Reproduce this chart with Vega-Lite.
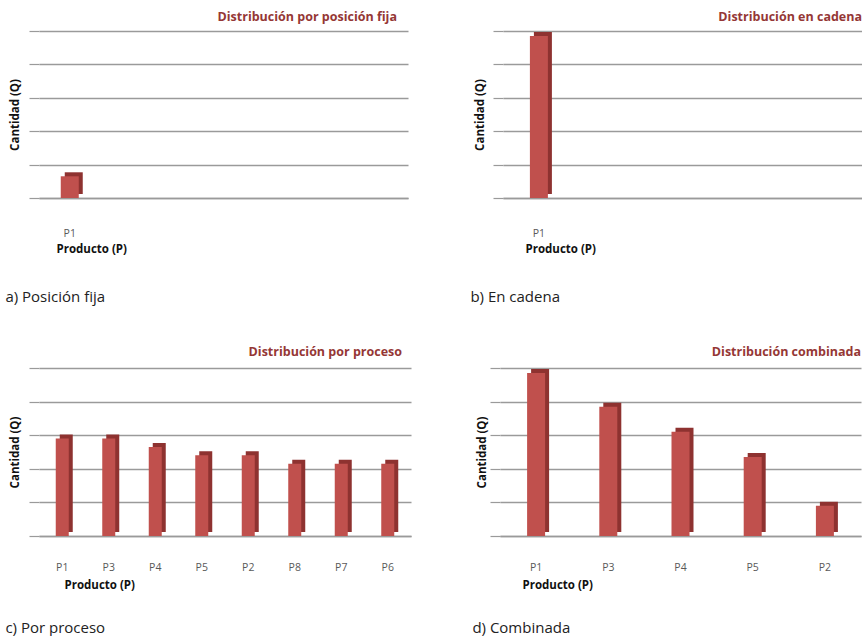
{
  "$schema": "https://vega.github.io/schema/vega-lite/v6.json",
  "background": "white",
  "padding": {"left": 5, "top": 10, "right": 0, "bottom": 0},
  "config": {
    "view": {"stroke": null},
    "font": "Open Sans",
    "axisX": {
      "labelAngle": 0, "labelColor": "#595959", "labelFontSize": 10.5, "labelPadding": 30,
      "ticks": false, "domain": true, "domainColor": "#9a9a9a", "domainWidth": 1.5, "grid": false,
      "titleFontSize": 11.5, "titleFontWeight": "bold", "titleColor": "#111111",
      "titleAnchor": "start", "titleAlign": "left", "titlePadding": 5
    },
    "axisY": {
      "labels": false, "ticks": true, "tickSize": 10, "tickColor": "#9a9a9a", "tickWidth": 1.2,
      "domain": false, "grid": true, "gridColor": "#9a9a9a", "gridWidth": 1.5,
      "titleFontSize": 11.5, "titleFontWeight": "bold", "titleColor": "#111111", "titlePadding": 8
    },
    "title": {"font": "Open Sans"}
  },
  "spacing": 40,
  "vconcat": [
    {
      "spacing": 62,
      "hconcat": [
        {
          "title": {"text": "a) Posición fija", "orient": "bottom", "anchor": "start", "frame": "bounds", "fontSize": 15, "fontWeight": "normal", "color": "#222222", "offset": 35, "dx": -4},
          "vconcat": [
            {
              "width": 369, "height": 167,
              "title": {"text": "Distribución por posición fija", "anchor": "end", "color": "#953735", "fontSize": 12.5, "fontWeight": "bold", "offset": 7, "dx": -11},
              "data": {"values": [{"producto": "P1", "cantidad": 0.65}]},
              "encoding": {
                "x": {"field": "producto", "type": "nominal", "sort": null, "title": "Producto (P)",
                  "scale": {"domain": ["P1", "P3", "P4", "P5", "P2", "P8"], "paddingInner": 0, "paddingOuter": 0},
                  "axis": {"values": ["P1"], "titleX": 17}},
                "y": {"field": "cantidad", "type": "quantitative", "title": "Cantidad (Q)",
                  "scale": {"domain": [0, 5], "nice": false}, "axis": {"values": [0, 1, 2, 3, 4, 5]}}
              },
              "layer": [
                {"mark": {"type": "bar", "color": "#8E3230", "size": 18, "xOffset": 4, "yOffset": -4}},
                {"mark": {"type": "bar", "color": "#C0504D", "size": 18}}
              ]
            }
          ]
        },
        {
          "title": {"text": "b) En cadena", "orient": "bottom", "anchor": "start", "frame": "bounds", "fontSize": 15, "fontWeight": "normal", "color": "#222222", "offset": 35, "dx": -4},
          "vconcat": [
            {
              "width": 359, "height": 167,
              "title": {"text": "Distribución en cadena", "anchor": "end", "color": "#953735", "fontSize": 12.5, "fontWeight": "bold", "offset": 7},
              "data": {"values": [{"producto": "P1", "cantidad": 4.85}]},
              "encoding": {
                "x": {"field": "producto", "type": "nominal", "sort": null, "title": "Producto (P)",
                  "scale": {"domain": ["P1", "P3", "P4", "P5", "P2"], "paddingInner": 0, "paddingOuter": 0},
                  "axis": {"values": ["P1"], "titleX": 22}},
                "y": {"field": "cantidad", "type": "quantitative", "title": "Cantidad (Q)",
                  "scale": {"domain": [0, 5], "nice": false}, "axis": {"values": [0, 1, 2, 3, 4, 5], "titlePadding": 7}}
              },
              "layer": [
                {"mark": {"type": "bar", "color": "#8E3230", "size": 18, "xOffset": 4, "yOffset": -4}},
                {"mark": {"type": "bar", "color": "#C0504D", "size": 18}}
              ]
            }
          ]
        }
      ]
    },
    {
      "spacing": 61,
      "hconcat": [
        {
          "title": {"text": "c) Por proceso", "orient": "bottom", "anchor": "start", "frame": "bounds", "fontSize": 15, "fontWeight": "normal", "color": "#222222", "offset": 30, "dx": -4},
          "vconcat": [
            {
              "width": 372, "height": 168,
              "title": {"text": "Distribución por proceso", "anchor": "end", "color": "#953735", "fontSize": 12.5, "fontWeight": "bold", "offset": 9, "dx": -9},
              "data": {"values": [
                {"producto": "P1", "cantidad": 2.9},
                {"producto": "P3", "cantidad": 2.9},
                {"producto": "P4", "cantidad": 2.65},
                {"producto": "P5", "cantidad": 2.4},
                {"producto": "P2", "cantidad": 2.4},
                {"producto": "P8", "cantidad": 2.15},
                {"producto": "P7", "cantidad": 2.15},
                {"producto": "P6", "cantidad": 2.15}
              ]},
              "encoding": {
                "x": {"field": "producto", "type": "nominal", "sort": null, "title": "Producto (P)",
                  "scale": {"paddingInner": 0, "paddingOuter": 0},
                  "axis": {"labelPadding": 26, "titleX": 25, "titlePadding": 7}},
                "y": {"field": "cantidad", "type": "quantitative", "title": "Cantidad (Q)",
                  "scale": {"domain": [0, 5], "nice": false}, "axis": {"values": [0, 1, 2, 3, 4, 5]}}
              },
              "layer": [
                {"mark": {"type": "bar", "color": "#8E3230", "size": 13, "xOffset": 4, "yOffset": -4}},
                {"mark": {"type": "bar", "color": "#C0504D", "size": 13}}
              ]
            }
          ]
        },
        {
          "title": {"text": "d) Combinada", "orient": "bottom", "anchor": "start", "frame": "bounds", "fontSize": 15, "fontWeight": "normal", "color": "#222222", "offset": 30, "dx": -4},
          "vconcat": [
            {
              "width": 361, "height": 168,
              "title": {"text": "Distribución combinada", "anchor": "end", "color": "#953735", "fontSize": 12.5, "fontWeight": "bold", "offset": 9},
              "data": {"values": [
                {"producto": "P1", "cantidad": 4.85},
                {"producto": "P3", "cantidad": 3.85},
                {"producto": "P4", "cantidad": 3.1},
                {"producto": "P5", "cantidad": 2.35},
                {"producto": "P2", "cantidad": 0.9}
              ]},
              "encoding": {
                "x": {"field": "producto", "type": "nominal", "sort": null, "title": "Producto (P)",
                  "scale": {"paddingInner": 0, "paddingOuter": 0},
                  "axis": {"labelPadding": 26, "titleX": 22, "titlePadding": 7}},
                "y": {"field": "cantidad", "type": "quantitative", "title": "Cantidad (Q)",
                  "scale": {"domain": [0, 5], "nice": false}, "axis": {"values": [0, 1, 2, 3, 4, 5], "titlePadding": 2}}
              },
              "layer": [
                {"mark": {"type": "bar", "color": "#8E3230", "size": 18, "xOffset": 4, "yOffset": -4}},
                {"mark": {"type": "bar", "color": "#C0504D", "size": 18}}
              ]
            }
          ]
        }
      ]
    }
  ]
}
